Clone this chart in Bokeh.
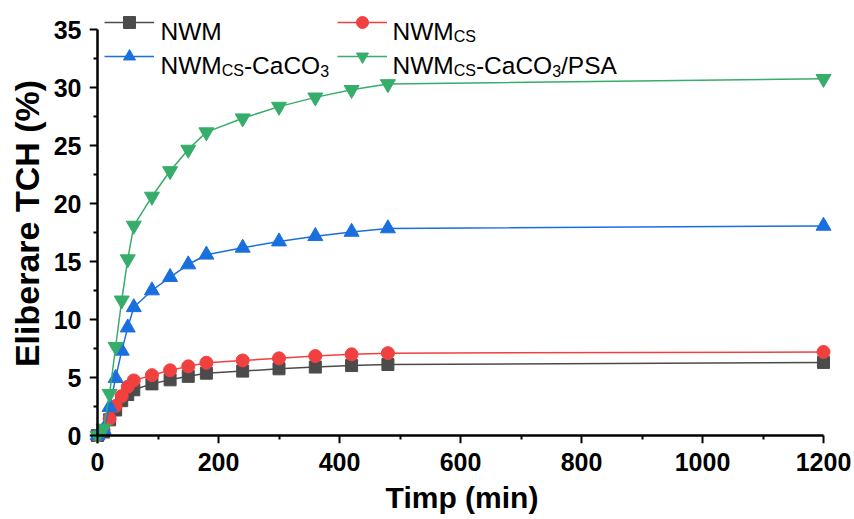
from bokeh.plotting import figure
from bokeh.models import Range1d, LinearAxis, FixedTicker, Legend, LegendItem, Label, Title
from bokeh.embed import file_html
from bokeh.resources import INLINE

# ---------------- data ----------------
time_min = [0, 10, 20, 30, 40, 50, 60, 90, 120, 150, 180, 240, 300, 360, 420, 480, 1200]
nwm = [0, 0.3, 1.35, 2.2, 3.0, 3.53, 3.94, 4.45, 4.8, 5.1, 5.37, 5.55, 5.75, 5.9, 6.03, 6.12, 6.3]
nwm_cs = [0, 0.45, 1.45, 2.55, 3.4, 4.2, 4.75, 5.2, 5.62, 5.96, 6.27, 6.47, 6.65, 6.85, 7.0, 7.1, 7.2]
nwm_cs_caco3 = [0, 0.5, 2.45, 4.95, 7.3, 9.3, 11.05, 12.5, 13.65, 14.74, 15.58, 16.18, 16.72, 17.18, 17.55, 17.85, 18.07]
nwm_cs_caco3_psa = [0, 0.6, 3.6, 7.65, 11.65, 15.2, 18.1, 20.6, 22.8, 24.65, 26.15, 27.35, 28.35, 29.15, 29.8, 30.3, 30.75]

x_ticks = [0, 200, 400, 600, 800, 1000, 1200]
y_ticks = [0, 5, 10, 15, 20, 25, 30, 35]
x_title = "Timp (min)"
y_title = "Eliberare TCH (%)"

# legend text pieces: (text, is_subscript)
legend_texts = [
    [("NWM", False)],
    [("NWM", False), ("CS", True)],
    [("NWM", False), ("CS", True), ("-CaCO", False), ("3", True)],
    [("NWM", False), ("CS", True), ("-CaCO", False), ("3", True), ("/PSA", False)],
]

colors = ["#4b4b4b", "#F14040", "#1A6FDF", "#37AD6B"]
markers = ["square", "circle", "triangle", "inverted_triangle"]
marker_sizes = [12, 13, 15, 15]
series = [nwm, nwm_cs, nwm_cs_caco3, nwm_cs_caco3_psa]

# ---------------- layout (page px, page has no margin) ----------------
FONT = "Liberation Sans"
PLOT_W, PLOT_H = 854, 519
frame_left, frame_right, frame_top, frame_bottom = 89, 834, 3, 443
x0_px, x1200_px = 97, 823
y0_px, y35_px = 435, 29
px_per_x = (x1200_px - x0_px) / 1200.0
px_per_y = (y0_px - y35_px) / 35.0

x_range = Range1d(-(x0_px - frame_left) / px_per_x, 1200 + (frame_right - x1200_px) / px_per_x)
y_range = Range1d(-(frame_bottom - y0_px) / px_per_y, 35 + (y35_px - frame_top) / px_per_y)

p = figure(width=PLOT_W, height=PLOT_H, output_backend="svg", toolbar_location=None,
           x_range=x_range, y_range=y_range, x_axis_type=None, y_axis_type=None,
           min_border_left=frame_left, min_border_right=PLOT_W - frame_right,
           min_border_top=frame_top, min_border_bottom=PLOT_H - frame_bottom)
p.outline_line_color = None
p.background_fill_color = "white"
p.border_fill_color = "white"


def mids(t):
    return [(a + b) / 2 for a, b in zip(t[:-1], t[1:])]


def line_axis(ticks, bounds):
    # axis line + ticks, drawn at data 0
    ax = LinearAxis(ticker=FixedTicker(ticks=ticks, minor_ticks=mids(ticks)), fixed_location=0, bounds=bounds)
    ax.axis_line_width = 2.5
    ax.axis_line_color = "black"
    ax.major_tick_line_width = 2
    ax.minor_tick_line_width = 2
    ax.major_tick_line_color = "black"
    ax.minor_tick_line_color = "black"
    ax.major_tick_in = 0
    ax.major_tick_out = 8
    ax.minor_tick_in = 0
    ax.minor_tick_out = 4
    ax.major_label_text_font_size = "0px"
    ax.major_label_text_alpha = 0
    return ax


def label_axis(ticks, bounds, label_standoff):
    # tick labels at the frame edge, without line or ticks
    ax = LinearAxis(ticker=FixedTicker(ticks=ticks, minor_ticks=[]), bounds=bounds)
    ax.axis_line_color = None
    ax.major_tick_line_color = None
    ax.minor_tick_line_color = None
    ax.major_tick_in = 0
    ax.major_tick_out = 0
    ax.minor_tick_in = 0
    ax.minor_tick_out = 0
    ax.major_label_standoff = label_standoff
    ax.major_label_text_font = FONT
    ax.major_label_text_font_style = "bold"
    ax.major_label_text_font_size = "25px"
    ax.major_label_text_color = "black"
    return ax


p.add_layout(label_axis(x_ticks, (0, 1200), 9), "below")
p.add_layout(label_axis(y_ticks, (0, 35), 8), "left")
p.add_layout(line_axis(x_ticks, (0, 1200)), "below")
p.add_layout(line_axis(y_ticks, (0, 35)), "left")
p.add_layout(Title(text=x_title, align="center", offset=9, standoff=10, text_font=FONT,
                   text_font_size="30px", text_font_style="bold", text_color="black"), "below")
p.add_layout(Title(text=y_title, align="center", offset=-8, standoff=10, text_font=FONT,
                   text_font_size="34px", text_font_style="bold", text_color="black"), "left")

items = []
for vals, col, mk, ms in zip(series, colors, markers, marker_sizes):
    lr = p.line(time_min, vals, line_color=col, line_width=1.5)
    sr = p.scatter(time_min, vals, marker=mk, size=ms, fill_color=col, line_color=col)
    items.append(LegendItem(label=" ", renderers=[lr, sr]))

# legend glyphs (two columns), inside the frame
GH, GSP = 30, 4
leg_kw = dict(orientation="vertical", glyph_width=50, glyph_height=GH, spacing=GSP, padding=0, margin=0,
              border_line_alpha=0, background_fill_alpha=0, label_standoff=0,
              label_text_font_size="1px", label_width=0, label_height=0)
row_center_page = 22
leg_bottom_page = row_center_page - GH / 2 + 2 * GH + GSP
col_glyph_x_page = [104, 337]
p.add_layout(Legend(items=[items[0], items[2]],
                    location=(col_glyph_x_page[0] - frame_left, frame_bottom - leg_bottom_page), **leg_kw))
p.add_layout(Legend(items=[items[1], items[3]],
                    location=(col_glyph_x_page[1] - frame_left, frame_bottom - leg_bottom_page), **leg_kw))

# legend texts with subscripts
W = {"N": 0.722, "W": 0.944, "M": 0.833, "C": 0.722, "S": 0.667, "-": 0.333, "a": 0.556,
     "O": 0.778, "3": 0.556, "/": 0.278, "P": 0.667, "A": 0.667}
F_MAIN, F_SUB = 24.5, 16
text_x_page = [160, 392]
row_base_page = [31, 65]
SUB_DROP = 5
positions = [(0, 0), (1, 0), (0, 1), (1, 1)]
for (col, row), pieces in zip(positions, legend_texts):
    x = text_x_page[col] - frame_left
    base = frame_bottom - row_base_page[row]
    for txt, sub in pieces:
        fs = F_SUB if sub else F_MAIN
        y = base - SUB_DROP if sub else base
        p.add_layout(Label(x=x, y=y, x_units="screen", y_units="screen", text=txt,
                           text_font=FONT, text_font_size=f"{fs}px", text_color="black",
                           text_baseline="alphabetic", text_align="left"))
        x += sum(W.get(ch, 0.6) for ch in txt) * fs

open("out.html", "w").write(file_html(p, INLINE))
